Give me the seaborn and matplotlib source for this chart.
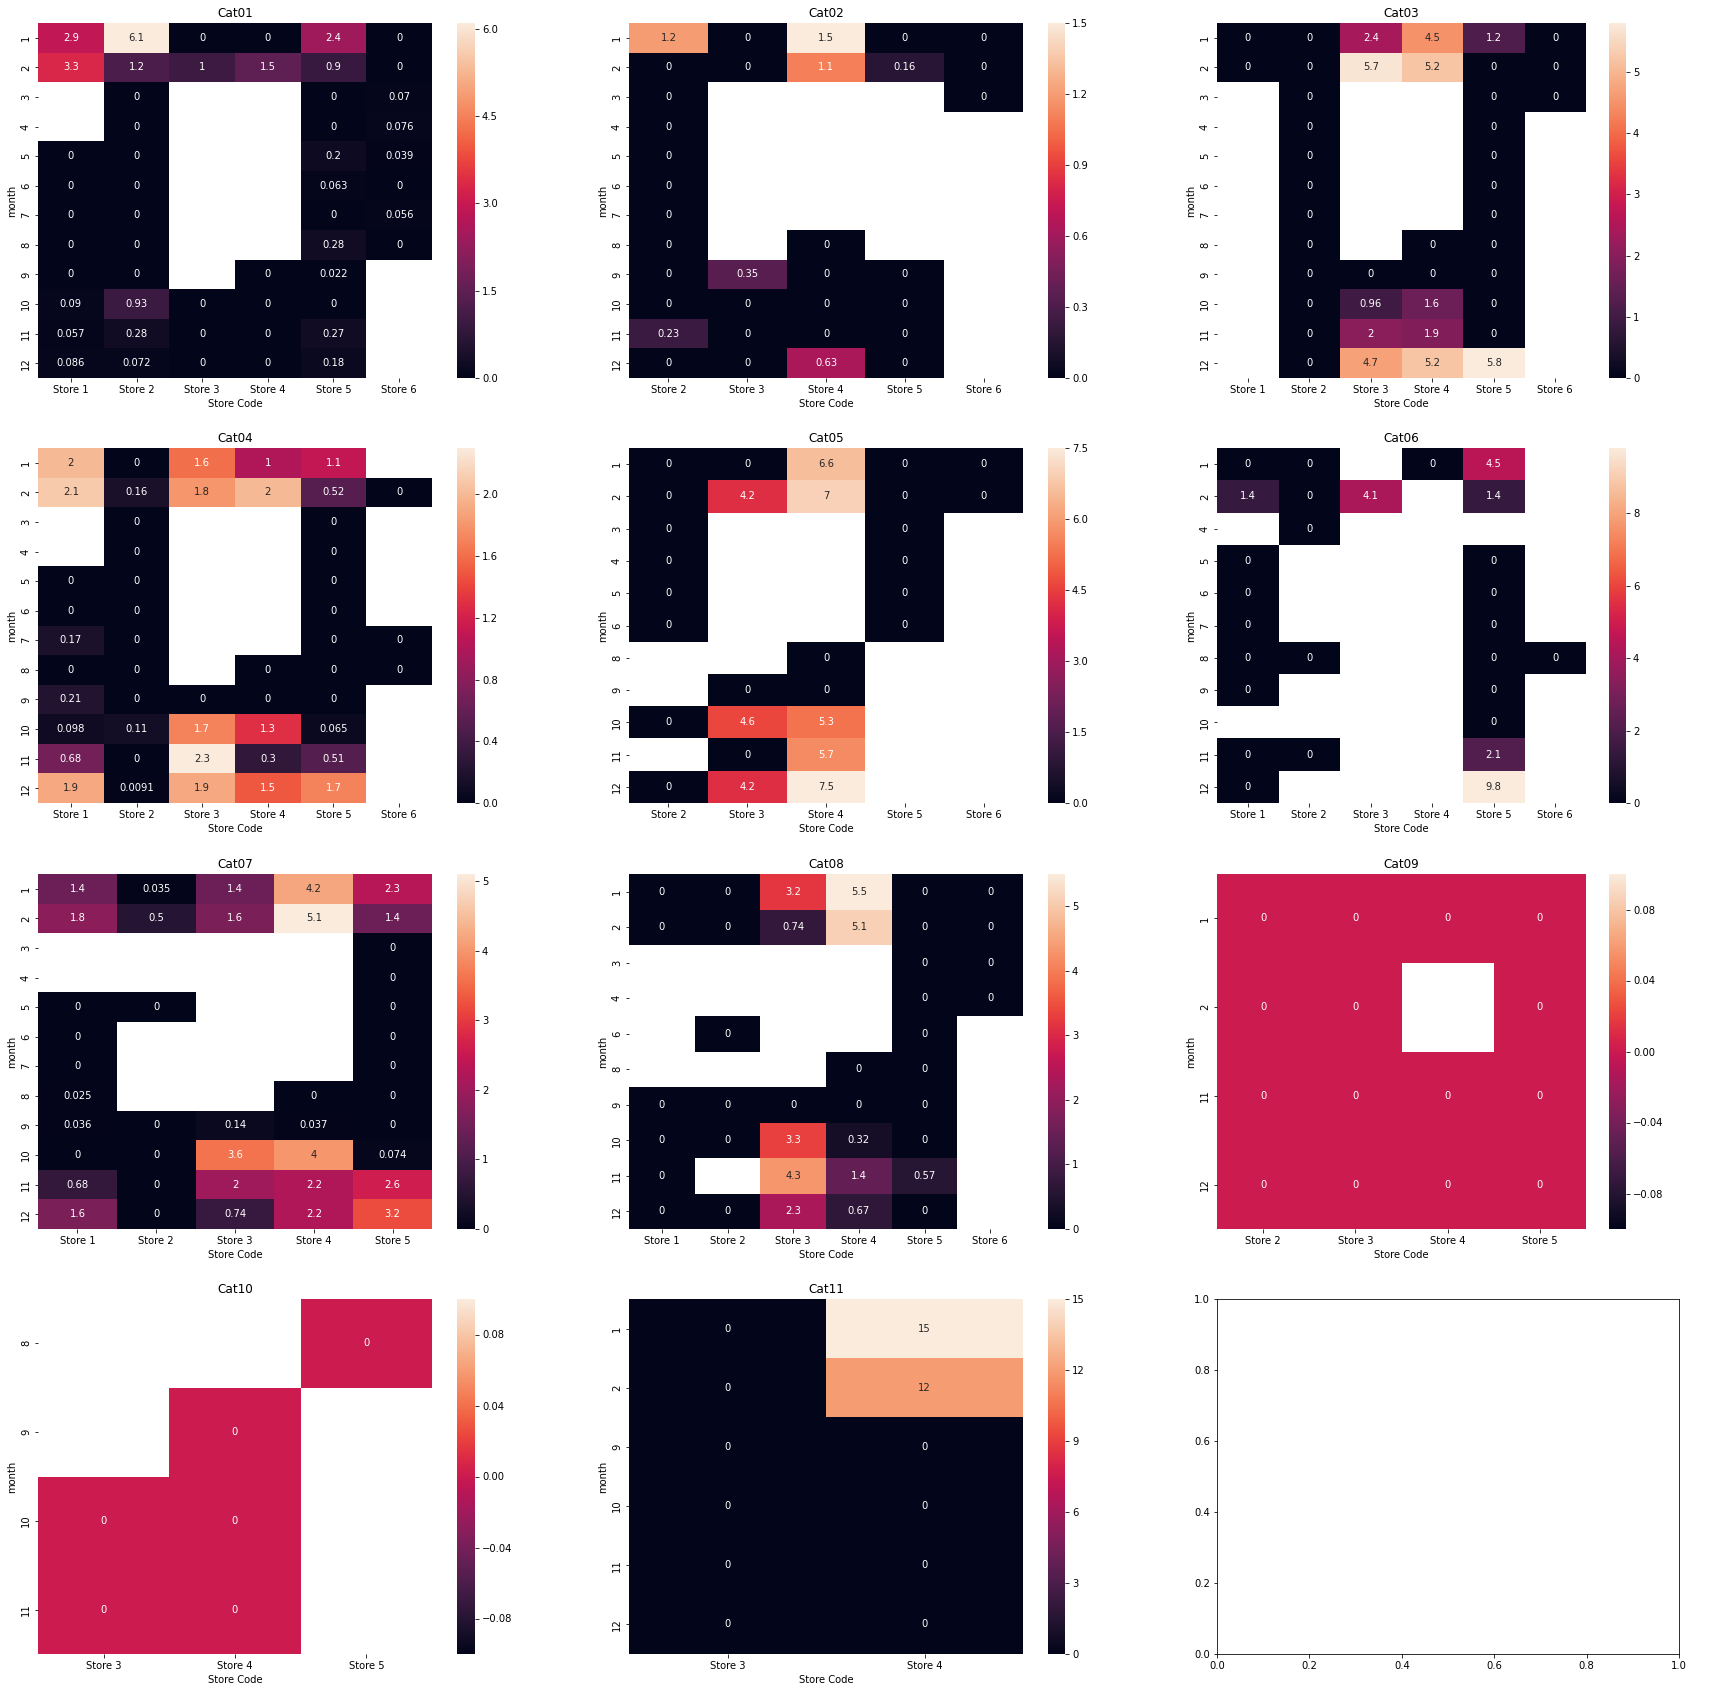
import numpy as np
import pandas as pd
import matplotlib
matplotlib.use("Agg")
import matplotlib.pyplot as plt
import seaborn as sns
from matplotlib.ticker import MaxNLocator

nan = np.nan

# ---- data (sales per month x store, per category) ----
cat01_months = [1, 2, 3, 4, 5, 6, 7, 8, 9, 10, 11, 12]
cat01_stores = ["Store 1", "Store 2", "Store 3", "Store 4", "Store 5", "Store 6"]
cat01_values = [
    [2.9, 6.1, 0, 0, 2.4, 0],
    [3.3, 1.2, 1, 1.5, 0.9, 0],
    [nan, 0, nan, nan, 0, 0.07],
    [nan, 0, nan, nan, 0, 0.076],
    [0, 0, nan, nan, 0.2, 0.039],
    [0, 0, nan, nan, 0.063, 0],
    [0, 0, nan, nan, 0, 0.056],
    [0, 0, nan, nan, 0.28, 0],
    [0, 0, nan, 0, 0.022, nan],
    [0.09, 0.93, 0, 0, 0, nan],
    [0.057, 0.28, 0, 0, 0.27, nan],
    [0.086, 0.072, 0, 0, 0.18, nan],
]

cat02_months = [1, 2, 3, 4, 5, 6, 7, 8, 9, 10, 11, 12]
cat02_stores = ["Store 2", "Store 3", "Store 4", "Store 5", "Store 6"]
cat02_values = [
    [1.2, 0, 1.5, 0, 0],
    [0, 0, 1.1, 0.16, 0],
    [0, nan, nan, nan, 0],
    [0, nan, nan, nan, nan],
    [0, nan, nan, nan, nan],
    [0, nan, nan, nan, nan],
    [0, nan, nan, nan, nan],
    [0, nan, 0, nan, nan],
    [0, 0.35, 0, 0, nan],
    [0, 0, 0, 0, nan],
    [0.23, 0, 0, 0, nan],
    [0, 0, 0.63, 0, nan],
]

cat03_months = [1, 2, 3, 4, 5, 6, 7, 8, 9, 10, 11, 12]
cat03_stores = ["Store 1", "Store 2", "Store 3", "Store 4", "Store 5", "Store 6"]
cat03_values = [
    [0, 0, 2.4, 4.5, 1.2, 0],
    [0, 0, 5.7, 5.2, 0, 0],
    [nan, 0, nan, nan, 0, 0],
    [nan, 0, nan, nan, 0, nan],
    [nan, 0, nan, nan, 0, nan],
    [nan, 0, nan, nan, 0, nan],
    [nan, 0, nan, nan, 0, nan],
    [nan, 0, nan, 0, 0, nan],
    [nan, 0, 0, 0, 0, nan],
    [nan, 0, 0.96, 1.6, 0, nan],
    [nan, 0, 2, 1.9, 0, nan],
    [nan, 0, 4.7, 5.2, 5.8, nan],
]

cat04_months = [1, 2, 3, 4, 5, 6, 7, 8, 9, 10, 11, 12]
cat04_stores = ["Store 1", "Store 2", "Store 3", "Store 4", "Store 5", "Store 6"]
cat04_values = [
    [2, 0, 1.6, 1, 1.1, nan],
    [2.1, 0.16, 1.8, 2, 0.52, 0],
    [nan, 0, nan, nan, 0, nan],
    [nan, 0, nan, nan, 0, nan],
    [0, 0, nan, nan, 0, nan],
    [0, 0, nan, nan, 0, nan],
    [0.17, 0, nan, nan, 0, 0],
    [0, 0, nan, 0, 0, 0],
    [0.21, 0, 0, 0, 0, nan],
    [0.098, 0.11, 1.7, 1.3, 0.065, nan],
    [0.68, 0, 2.3, 0.3, 0.51, nan],
    [1.9, 0.0091, 1.9, 1.5, 1.7, nan],
]

cat05_months = [1, 2, 3, 4, 5, 6, 8, 9, 10, 11, 12]
cat05_stores = ["Store 2", "Store 3", "Store 4", "Store 5", "Store 6"]
cat05_values = [
    [0, 0, 6.6, 0, 0],
    [0, 4.2, 7, 0, 0],
    [0, nan, nan, 0, nan],
    [0, nan, nan, 0, nan],
    [0, nan, nan, 0, nan],
    [0, nan, nan, 0, nan],
    [nan, nan, 0, nan, nan],
    [nan, 0, 0, nan, nan],
    [0, 4.6, 5.3, nan, nan],
    [nan, 0, 5.7, nan, nan],
    [0, 4.2, 7.5, nan, nan],
]

cat06_months = [1, 2, 4, 5, 6, 7, 8, 9, 10, 11, 12]
cat06_stores = ["Store 1", "Store 2", "Store 3", "Store 4", "Store 5", "Store 6"]
cat06_values = [
    [0, 0, nan, 0, 4.5, nan],
    [1.4, 0, 4.1, nan, 1.4, nan],
    [nan, 0, nan, nan, nan, nan],
    [0, nan, nan, nan, 0, nan],
    [0, nan, nan, nan, 0, nan],
    [0, nan, nan, nan, 0, nan],
    [0, 0, nan, nan, 0, 0],
    [0, nan, nan, nan, 0, nan],
    [nan, nan, nan, nan, 0, nan],
    [0, 0, nan, nan, 2.1, nan],
    [0, nan, nan, nan, 9.8, nan],
]

cat07_months = [1, 2, 3, 4, 5, 6, 7, 8, 9, 10, 11, 12]
cat07_stores = ["Store 1", "Store 2", "Store 3", "Store 4", "Store 5"]
cat07_values = [
    [1.4, 0.035, 1.4, 4.2, 2.3],
    [1.8, 0.5, 1.6, 5.1, 1.4],
    [nan, nan, nan, nan, 0],
    [nan, nan, nan, nan, 0],
    [0, 0, nan, nan, 0],
    [0, nan, nan, nan, 0],
    [0, nan, nan, nan, 0],
    [0.025, nan, nan, 0, 0],
    [0.036, 0, 0.14, 0.037, 0],
    [0, 0, 3.6, 4, 0.074],
    [0.68, 0, 2, 2.2, 2.6],
    [1.6, 0, 0.74, 2.2, 3.2],
]

cat08_months = [1, 2, 3, 4, 6, 8, 9, 10, 11, 12]
cat08_stores = ["Store 1", "Store 2", "Store 3", "Store 4", "Store 5", "Store 6"]
cat08_values = [
    [0, 0, 3.2, 5.5, 0, 0],
    [0, 0, 0.74, 5.1, 0, 0],
    [nan, nan, nan, nan, 0, 0],
    [nan, nan, nan, nan, 0, 0],
    [nan, 0, nan, nan, 0, nan],
    [nan, nan, nan, 0, 0, nan],
    [0, 0, 0, 0, 0, nan],
    [0, 0, 3.3, 0.32, 0, nan],
    [0, nan, 4.3, 1.4, 0.57, nan],
    [0, 0, 2.3, 0.67, 0, nan],
]

cat09_months = [1, 2, 11, 12]
cat09_stores = ["Store 2", "Store 3", "Store 4", "Store 5"]
cat09_values = [
    [0, 0, 0, 0],
    [0, 0, nan, 0],
    [0, 0, 0, 0],
    [0, 0, 0, 0],
]

cat10_months = [8, 9, 10, 11]
cat10_stores = ["Store 3", "Store 4", "Store 5"]
cat10_values = [
    [nan, nan, 0],
    [nan, 0, nan],
    [0, 0, nan],
    [0, 0, nan],
]

cat11_months = [1, 2, 9, 10, 11, 12]
cat11_stores = ["Store 3", "Store 4"]
cat11_values = [
    [0, 15],
    [0, 12],
    [0, 0],
    [0, 0],
    [0, 0],
    [0, 0],
]

categories = [
    ("Cat01", cat01_months, cat01_stores, cat01_values),
    ("Cat02", cat02_months, cat02_stores, cat02_values),
    ("Cat03", cat03_months, cat03_stores, cat03_values),
    ("Cat04", cat04_months, cat04_stores, cat04_values),
    ("Cat05", cat05_months, cat05_stores, cat05_values),
    ("Cat06", cat06_months, cat06_stores, cat06_values),
    ("Cat07", cat07_months, cat07_stores, cat07_values),
    ("Cat08", cat08_months, cat08_stores, cat08_values),
    ("Cat09", cat09_months, cat09_stores, cat09_values),
    ("Cat10", cat10_months, cat10_stores, cat10_values),
    ("Cat11", cat11_months, cat11_stores, cat11_values),
]

# ---- layout (pixel boxes measured on the 1727x1692 figure, drawn at 72 dpi) ----
W, H = 1727, 1692
DPI = 72
fig = plt.figure(figsize=(W / DPI, H / DPI), dpi=DPI)

# heatmap left/right, colorbar left/right for each column
col_boxes = [(38, 432, 457, 475), (629, 1023, 1048, 1065), (1217, 1586, 1609, 1626)]
row_tops = [23, 448, 874, 1299]
cell_h = 355


def px_axes(x0, x1, top, h):
    return fig.add_axes([x0 / W, 1 - (top + h) / H, (x1 - x0) / W, h / H])


for i, (name, months, stores, values) in enumerate(categories):
    r, c = divmod(i, 3)
    hx0, hx1, cx0, cx1 = col_boxes[c]
    ax = px_axes(hx0, hx1, row_tops[r], cell_h)
    cax = px_axes(cx0, cx1, row_tops[r], cell_h)
    df = pd.DataFrame(values, index=pd.Index(months, name="month"),
                      columns=pd.Index(stores, name="Store Code"))
    sns.heatmap(df, annot=True, ax=ax, cbar_ax=cax,
                cbar_kws={"ticks": MaxNLocator(nbins=6, steps=[1, 1.5, 2, 3, 4, 5, 6, 8, 10])})
    ax.set_title(name)

# last grid cell is left empty
px_axes(1217, 1679, row_tops[3], cell_h)

fig.savefig("out.png", dpi=DPI)
